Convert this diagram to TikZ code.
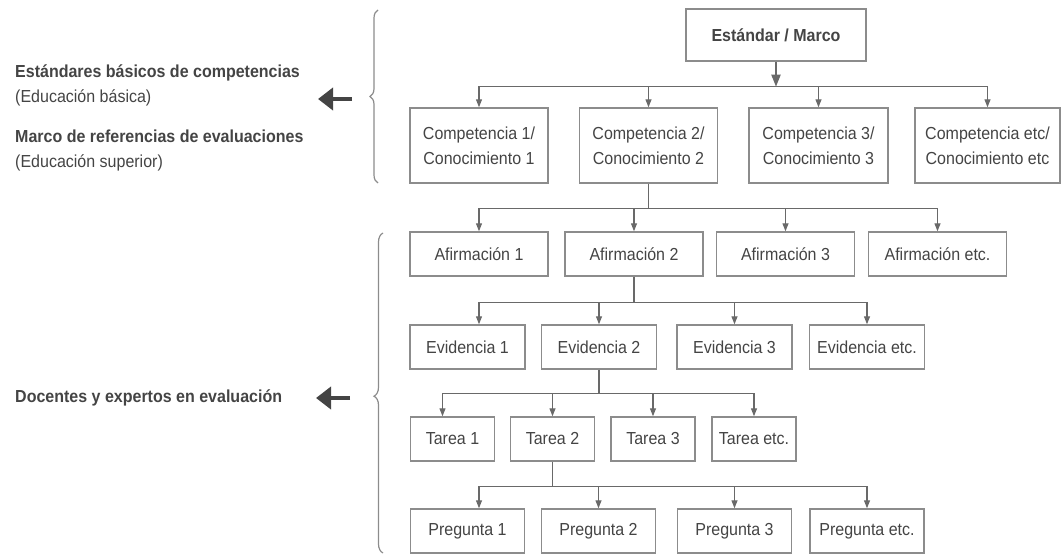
\documentclass[tikz,border=0pt]{standalone}
\usepackage{fontspec}
\setmainfont{Liberation Sans}[FakeStretch=0.92]
\usetikzlibrary{arrows.meta,decorations.pathreplacing}
\definecolor{txt}{RGB}{68,68,68}
\definecolor{frame}{RGB}{140,140,140}
\definecolor{linegray}{RGB}{105,105,105}
\tikzset{
  box/.style={draw=frame, line width=1.4pt, inner sep=0pt, text=txt, align=center,
    font=\fontsize{17.4}{25}\selectfont, minimum height=44pt},
  wire/.style={draw=linegray, line width=1.2pt},
  tip/.style={wire, -{Triangle[length=8pt,width=6pt]}},
  fat/.style={draw=txt, line width=4pt, -{Triangle[length=15pt 0 0,width=22pt 0 0]}},
  side/.style={anchor=west, inner sep=0pt, text=txt, align=left, font=\fontsize{17.4}{25}\selectfont},
  curly/.style={draw=frame, line width=1.2pt, decorate}
}
\begin{document}
\begin{tikzpicture}[x=1pt,y=-1pt]
\useasboundingbox (0,0) rectangle (1061,556);

\node[side] (std) at (15,85.5) {\textbf{Estándares básicos de competencias}\\(Educación básica)};
\node[side] (mrc) at (15,150.5) {\textbf{Marco de referencias de evaluaciones}\\(Educación superior)};
\node[side] (doc) at (15,398) {\textbf{Docentes y expertos en evaluación}};

\draw[curly, decoration={brace, amplitude=8pt}] (378,183) -- (378,10);
\draw[curly, decoration={brace, amplitude=9pt, aspect=0.49}] (383,553) -- (383,233);
\coordinate (from1) at (352,99);
\coordinate (to1) at (318,99);
\coordinate (from2) at (350,398);
\coordinate (to2) at (316,398);
\draw[fat] (from1) -- (to1);
\draw[fat] (from2) -- (to2);

\node[box, minimum width=180pt, minimum height=52pt, font=\fontsize{17.4}{20}\selectfont\bfseries] (marco) at (776,35) {Estándar / Marco};

\node[box, minimum width=138pt, minimum height=75pt] (comp1) at (479,145.5) {Competencia 1/\\Conocimiento 1};
\node[box, minimum width=138pt, minimum height=75pt] (comp2) at (648.5,145.5) {Competencia 2/\\Conocimiento 2};
\node[box, minimum width=139pt, minimum height=75pt] (comp3) at (818.5,145.5) {Competencia 3/\\Conocimiento 3};
\node[box, minimum width=145pt, minimum height=75pt] (comp4) at (987.5,145.5) {Competencia etc/\\Conocimiento etc};

\node[box, minimum width=138pt] (afir1) at (479,254) {Afirmación 1};
\node[box, minimum width=138pt] (afir2) at (634,254) {Afirmación 2};
\node[box, minimum width=138pt] (afir3) at (785.5,254) {Afirmación 3};
\node[box, minimum width=138pt] (afir4) at (937.5,254) {Afirmación etc.};

\node[box, minimum width=115pt] (evid1) at (467.5,347) {Evidencia 1};
\node[box, minimum width=115pt] (evid2) at (599,347) {Evidencia 2};
\node[box, minimum width=115pt] (evid3) at (734.5,347) {Evidencia 3};
\node[box, minimum width=115pt] (evid4) at (867,347) {Evidencia etc.};

\node[box, minimum width=84pt] (tarea1) at (452.5,439) {Tarea 1};
\node[box, minimum width=84pt] (tarea2) at (552.5,439) {Tarea 2};
\node[box, minimum width=84pt] (tarea3) at (653,439) {Tarea 3};
\node[box, minimum width=84pt] (tarea4) at (754,439) {Tarea etc.};

\node[box, minimum width=114pt] (preg1) at (467.5,531) {Pregunta 1};
\node[box, minimum width=114pt] (preg2) at (598.5,531) {Pregunta 2};
\node[box, minimum width=114pt] (preg3) at (734.5,531) {Pregunta 3};
\node[box, minimum width=114pt] (preg4) at (867,531) {Pregunta etc.};

\draw[wire, line width=2pt, -{Triangle[length=12pt,width=9pt]}] (marco.south) -- ++(0,25) coordinate (bus0);
\draw[tip] (bus0) -| (comp1.north);
\draw[tip] (bus0) -| (comp2.north);
\draw[tip] (bus0) -| (comp3.north);
\draw[tip] (bus0) -| (comp4.north);

\draw[wire] (comp2.south) -- ++(0,25) coordinate (bus1);
\draw[tip] (bus1) -| (afir1.north);
\draw[tip] (bus1) -| (afir2.north);
\draw[tip] (bus1) -| (afir3.north);
\draw[tip] (bus1) -| (afir4.north);

\draw[wire] (afir2.south) -- ++(0,26) coordinate (bus2);
\draw[tip] (bus2) -| ([xshift=11.5pt]evid1.north);
\draw[tip] (bus2) -| (evid2.north);
\draw[tip] (bus2) -| (evid3.north);
\draw[tip] (bus2) -| (evid4.north);

\draw[wire] (evid2.south) -- ++(0,24) coordinate (bus3);
\draw[tip] (bus3) -| ([xshift=-10pt]tarea1.north);
\draw[tip] (bus3) -| (tarea2.north);
\draw[tip] (bus3) -| (tarea3.north);
\draw[tip] (bus3) -| (tarea4.north);

\draw[wire] (tarea2.south) -- ++(0,25) coordinate (bus4);
\draw[tip] (bus4) -| ([xshift=11.5pt]preg1.north);
\draw[tip] (bus4) -| (preg2.north);
\draw[tip] (bus4) -| (preg3.north);
\draw[tip] (bus4) -| (preg4.north);
\end{tikzpicture}
\end{document}
